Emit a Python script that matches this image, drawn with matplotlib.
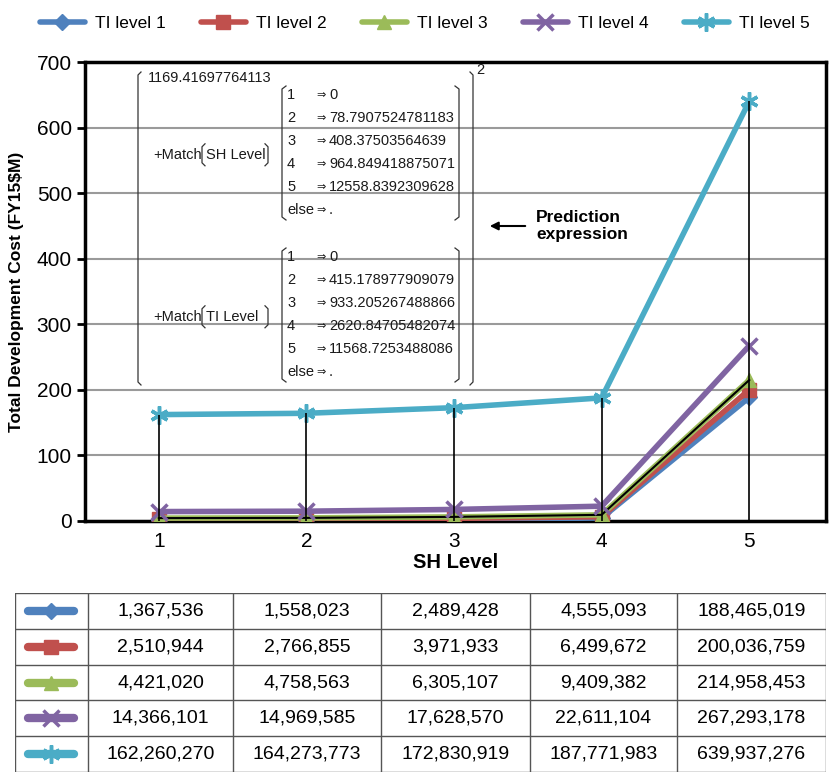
import numpy as np
import matplotlib
matplotlib.use('Agg')
from matplotlib import pyplot as plt
from matplotlib.lines import Line2D

plt.rcParams['font.family'] = ['Liberation Sans', 'DejaVu Sans']

# data: total development cost in dollars, per TI level, over SH levels 1-5
sh_levels = [1, 2, 3, 4, 5]
series_names = ['TI level 1', 'TI level 2', 'TI level 3', 'TI level 4', 'TI level 5']
ti1 = [1367536, 1558023, 2489428, 4555093, 188465019]
ti2 = [2510944, 2766855, 3971933, 6499672, 200036759]
ti3 = [4421020, 4758563, 6305107, 9409382, 214958453]
ti4 = [14366101, 14969585, 17628570, 22611104, 267293178]
ti5 = [162260270, 164273773, 172830919, 187771983, 639937276]

sh_coefs = ['0', '78.7907524781183', '408.37503564639', '964.849418875071', '12558.8392309628']
ti_coefs = ['0', '415.178977909079', '933.205267488866', '2620.84705482074', '11568.7253488086']
intercept = '1169.41697764113'

series = [ti1, ti2, ti3, ti4, ti5]
colors = ['#4F81BD', '#C0504D', '#9BBB59', '#8064A2', '#4BACC6']
markers = ['D', 's', '^', 'x', (6, 2, 0)]
msizes = [8, 10, 10, 11, 13]

W, H = 833, 772
fig = plt.figure(figsize=(W / 100, H / 100), dpi=100)


def fx(px):
    return px / W


def fy(py):
    return 1 - py / H


ax = fig.add_axes([fx(85), fy(521), fx(826) - fx(85), fy(62) - fy(521)])
vals_m = [np.array(s) / 1e6 for s in series]

for i, v in enumerate(vals_m):
    ax.plot(sh_levels, v, color=colors[i], lw=4, marker=markers[i], ms=msizes[i],
            mew=2.5 if i >= 3 else 1, label=series_names[i], zorder=3 + i,
            solid_capstyle='round')
ax.plot(sh_levels, vals_m[2], color='black', lw=1.5, zorder=5.5)

highs = np.max(vals_m, axis=0)
ax.vlines(sh_levels, 0, highs, color='black', lw=1.2, zorder=9)

ax.set_xlim(0.5, 5.52)
ax.set_ylim(0, 700)
ax.set_yticks(range(0, 701, 100))
ax.set_xticks(sh_levels)
ax.yaxis.grid(True, color='#9a9a9a', lw=1.5)
ax.set_axisbelow(True)
for sp in ax.spines.values():
    sp.set_linewidth(2.5)
ax.tick_params(axis='both', labelsize=15, length=6, width=2)
ax.tick_params(axis='x', length=0, pad=8)
ax.set_xlabel('SH Level', fontsize=14.5, fontweight='bold', labelpad=1)
ax.set_ylabel('Total Development Cost (FY15$M)', fontsize=12.5, fontweight='bold', labelpad=9)

fig.legend(loc='upper center', bbox_to_anchor=(0.51, 1.0), ncol=5, frameon=False,
           fontsize=12.5, handlelength=2.6, columnspacing=2.0, handletextpad=0.6)


# prediction expression, drawn in figure pixel coordinates
def bracket(x, y0, y1, side, hook=4):
    d = hook if side == 'left' else -hook
    xs = [x + d, x, x, x + d]
    ys = [y0, y0 + 3, y1 - 3, y1]
    fig.add_artist(Line2D([fx(v) for v in xs], [fy(v) for v in ys], color='#333333', lw=0.9))


txt = dict(fontsize=10.5, va='center', transform=fig.transFigure, color='#1a1a1a')
fig.text(fx(148), fy(78), intercept, ha='left', **txt)
bracket(138, 72, 385, 'left', 3)
bracket(473, 72, 385, 'right', 3)
fig.text(fx(476), fy(70), '2', ha='left', **txt)


def match_block(top, label, coefs):
    rows = [str(k) for k in range(1, 6)] + ['else']
    vals = coefs + ['.']
    for j, (r, v) in enumerate(zip(rows, vals)):
        y = top + 23 * j
        fig.text(fx(287), fy(y), r, ha='left', **txt)
        fig.text(fx(316), fy(y), '\u21d2', ha='left', family='DejaVu Sans', fontsize=8,
                 va='center', transform=fig.transFigure, color='#1a1a1a')
        fig.text(fx(329), fy(y), v, ha='left', **txt)
    bracket(282, top - 9, top + 23 * 5 + 10, 'left')
    bracket(459, top - 9, top + 23 * 5 + 10, 'right')
    ym = top + 23 * 2.6
    fig.text(fx(153), fy(ym), '+Match', ha='left', **txt)
    fig.text(fx(206), fy(ym), label, ha='left', **txt)
    bracket(202, ym - 11, ym + 11, 'left', 3)
    bracket(268, ym - 11, ym + 11, 'right', 3)


match_block(95, 'SH Level', sh_coefs)
match_block(257, 'TI Level', ti_coefs)

fig.text(fx(536), fy(226), 'Prediction\nexpression', fontsize=12.5, fontweight='bold',
         ha='left', va='center', linespacing=1.1, transform=fig.transFigure)
fig.add_artist(plt.Annotation('', xy=(fx(487), fy(226)), xytext=(fx(528), fy(226)),
                              xycoords='figure fraction', textcoords='figure fraction',
                              arrowprops=dict(arrowstyle='-|>', color='black', lw=1.5,
                                              mutation_scale=12)))

# data table under the chart
tab = fig.add_axes([fx(15), fy(772), fx(826) - fx(15), fy(593) - fy(772)])
col_edges = [15, 88, 233, 381, 530, 677, 826]
tab.set_xlim(15, 826)
tab.set_ylim(5, 0)
tab.axis('off')
for x in col_edges:
    tab.plot([x, x], [0, 5], color='#555555', lw=1)
for r in range(6):
    tab.plot([15, 826], [r, r], color='#555555', lw=1)
for i, s in enumerate(series):
    y = i + 0.5
    tab.plot([28, 74], [y, y], color=colors[i], lw=6, solid_capstyle='round')
    tab.plot([51], [y], color=colors[i], marker=markers[i], ms=msizes[i], mew=2.5 if i >= 3 else 1)
    for c, v in enumerate(s):
        xc = (col_edges[c + 1] + col_edges[c + 2]) / 2
        tab.text(xc, y, f'{v:,}', ha='center', va='center', fontsize=14)

fig.savefig('out.png', dpi=100)
